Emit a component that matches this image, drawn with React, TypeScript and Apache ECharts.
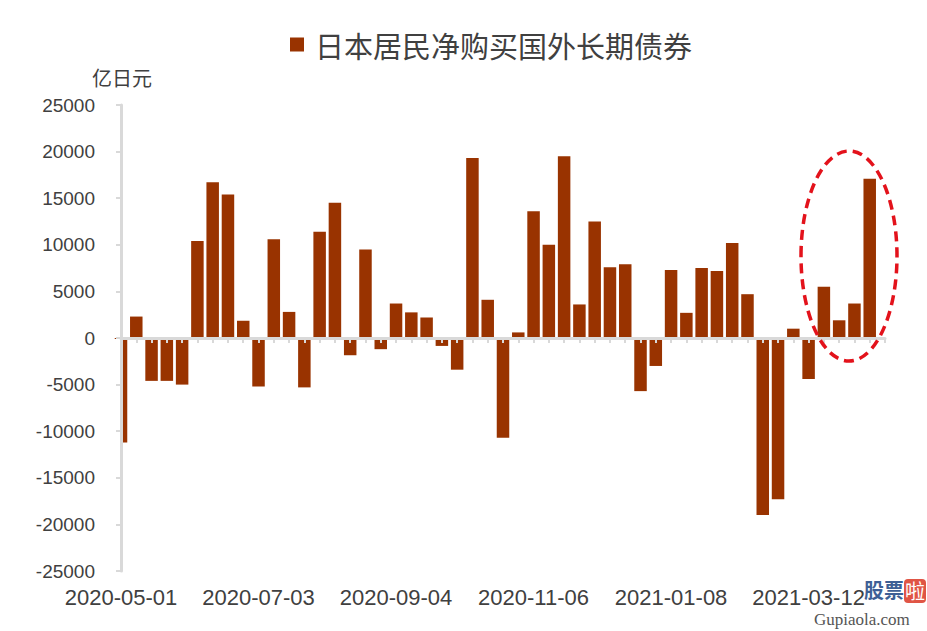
import React, { useEffect, useRef } from 'react';
import * as echarts from 'echarts';

const categories: string[] = [
  '2020-05-01', '2020-05-08', '2020-05-15', '2020-05-22', '2020-05-29',
  '2020-06-05', '2020-06-12', '2020-06-19', '2020-06-26', '2020-07-03',
  '2020-07-10', '2020-07-17', '2020-07-24', '2020-07-31', '2020-08-07',
  '2020-08-14', '2020-08-21', '2020-08-28', '2020-09-04', '2020-09-11',
  '2020-09-18', '2020-09-25', '2020-10-02', '2020-10-09', '2020-10-16',
  '2020-10-23', '2020-10-30', '2020-11-06', '2020-11-13', '2020-11-20',
  '2020-11-27', '2020-12-04', '2020-12-11', '2020-12-18', '2020-12-25',
  '2021-01-01', '2021-01-08', '2021-01-15', '2021-01-22', '2021-01-29',
  '2021-02-05', '2021-02-12', '2021-02-19', '2021-02-26', '2021-03-05',
  '2021-03-12', '2021-03-19', '2021-03-26', '2021-04-02', '2021-04-09',
  '2021-04-16',
];

const netPurchases: (number | null)[] = [
  -11200, 2300, -4600, -4600, -5000,
  10400, 16700, 15400, 1850, -5200,
  10600, 2800, -5300, 11400, 14500,
  -1850, 9500, -1200, 3700, 2750,
  2200, -850, -3400, 19300, 4100,
  -10700, 600, 13600, 10000, 19500,
  3600, 12500, 7600, 7900, -5700,
  -3000, 7300, 2700, 7500, 7200,
  10200, 4700, -19000, -17300, 1000,
  -4400, 5500, 1900, 3700, 17100,
  null,
];

const seriesName = '日本居民净购买国外长期债券';
const unitLabel = '亿日元';
const yMin = -25000;
const yMax = 25000;
const yStep = 5000;

export default function App() {
  const ref = useRef<HTMLDivElement>(null);

  useEffect(() => {
    if (!ref.current) return;
    const chart = echarts.init(ref.current, null, { renderer: 'svg' });
    const numFont = '"Liberation Sans", Arial, sans-serif';
    const cjkFont = '"Noto Sans CJK SC", sans-serif';
    chart.setOption({
      animation: false,
      backgroundColor: '#ffffff',
      grid: { left: 121, right: 42, top: 105, bottom: 60, containLabel: false },
      legend: {
        left: 285,
        top: 25,
        itemWidth: 14,
        itemHeight: 14,
        itemGap: 10,
        icon: 'rect',
        textStyle: { fontFamily: cjkFont, fontSize: 29, color: '#404040', padding: [0, 0, 0, 6] },
        data: [seriesName],
      },
      xAxis: [
        {
          type: 'category',
          data: categories,
          boundaryGap: false,
          position: 'bottom',
          z: 5,
          axisLine: { onZero: true, lineStyle: { color: '#d9d9d9', width: 3 } },
          axisTick: { show: true, interval: 0, length: 5, lineStyle: { color: '#d9d9d9', width: 2 } },
          axisLabel: { show: false },
          splitLine: { show: false },
        },
        {
          type: 'category',
          data: categories,
          boundaryGap: false,
          position: 'bottom',
          axisLine: { show: false, onZero: false },
          axisTick: { show: false },
          axisLabel: { interval: 8, fontSize: 22, color: '#404040', fontFamily: numFont, margin: 15 },
          splitLine: { show: false },
        },
      ],
      yAxis: {
        type: 'value',
        min: yMin,
        max: yMax,
        interval: yStep,
        z: 6,
        axisLine: { show: true, lineStyle: { color: '#d9d9d9', width: 3 } },
        axisTick: { show: true, length: 5, lineStyle: { color: '#d9d9d9', width: 2 } },
        axisLabel: {
          fontSize: 19,
          color: '#404040',
          fontFamily: numFont,
          margin: 26,
          formatter: (v: number) => String(v),
        },
        splitLine: { show: false },
      },
      series: [
        {
          name: seriesName,
          type: 'bar',
          xAxisIndex: 0,
          data: netPurchases,
          barWidth: 12.5,
          clip: true,
          itemStyle: { color: '#993300' },
        },
      ],
      graphic: [
        // mask the half of the first bar that lies left of the value axis
        {
          type: 'rect',
          z: 3,
          shape: { x: 100, y: 339, width: 20, height: 130 },
          style: { fill: '#ffffff' },
        },
        {
          type: 'text',
          left: 92,
          top: 67,
          style: { text: unitLabel, fontSize: 20, fill: '#404040', fontFamily: cjkFont },
        },
        {
          type: 'ellipse',
          z: 10,
          shape: { cx: 849, cy: 256, rx: 48, ry: 105 },
          style: { fill: 'none', stroke: '#e3121b', lineWidth: 3.5, lineDash: [10, 6] },
        },
        {
          type: 'group',
          z: 20,
          children: [
            {
              type: 'text',
              x: 864,
              y: 579,
              style: { text: '股票', fontSize: 20, fontWeight: 'bold', fill: '#3d5f95', fontFamily: cjkFont },
            },
            { type: 'rect', shape: { x: 904, y: 579, width: 22, height: 24, r: 4 }, style: { fill: '#e05545' } },
            {
              type: 'text',
              x: 905,
              y: 580,
              style: { text: '啦', fontSize: 20, fill: '#ffffff', fontFamily: cjkFont },
            },
            {
              type: 'text',
              x: 814,
              y: 611,
              style: { text: 'Gupiaola.com', fontSize: 17, fill: '#555555', fontFamily: '"Liberation Serif", "DejaVu Serif", serif' },
            },
          ],
        },
      ],
    });
    return () => chart.dispose();
  }, []);

  return (
    <div
      ref={ref}
      style={{ position: 'absolute', left: 0, top: 0, width: 927, height: 631 }}
    />
  );
}
